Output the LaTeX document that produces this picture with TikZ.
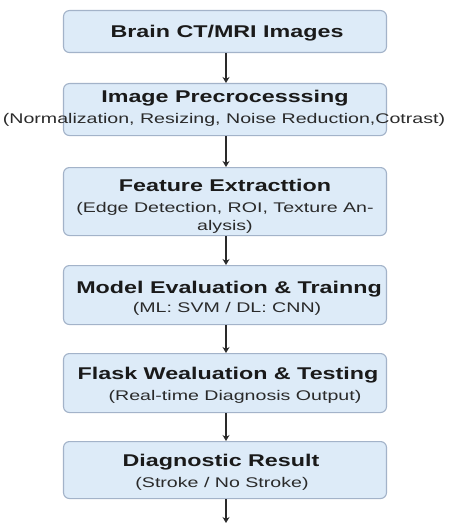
\documentclass[tikz,border=0pt]{standalone}
\usepackage{fontspec}
\setmainfont{Liberation Sans}
\newfontfamily\tfont[FakeStretch=1.37]{Liberation Sans}
\newfontfamily\sfontx[FakeStretch=1.40]{Liberation Sans}
\usetikzlibrary{arrows.meta}
\definecolor{boxfill}{HTML}{DDEBF8}
\definecolor{boxline}{HTML}{A3B3C9}
\definecolor{txt}{HTML}{1A1A1A}
\definecolor{subtxt}{HTML}{2A2A2A}
\definecolor{arr}{HTML}{2A2A2A}
\tikzset{
  stagebox/.style={draw=boxline, fill=boxfill, line width=1.1pt, rounded corners=6pt,
    minimum width=323pt, inner sep=0pt, anchor=north},
  titletext/.style={font=\tfont\bfseries\fontsize{17}{20}\selectfont, text=txt,
    inner sep=0pt, text height=12.2pt, text depth=0pt, anchor=center},
  subtext/.style={font=\sfontx\fontsize{14}{17}\selectfont, text=subtxt,
    inner sep=0pt, text height=10pt, text depth=0pt, anchor=center},
  flow/.style={draw=arr, line width=1.2pt, -{Stealth[length=6pt,width=7pt]}}
}
\begin{document}
\begin{tikzpicture}[x=1pt,y=1pt]
\useasboundingbox (0,0) rectangle (448,-524);
% boxes
\node[stagebox, minimum height=42pt] (b1) at (225,-10) {};
\node[stagebox, minimum height=52pt] (b2) at (225,-83) {};
\node[stagebox, minimum height=68pt] (b3) at (225,-167) {};
\node[stagebox, minimum height=59pt] (b4) at (225,-265) {};
\node[stagebox, minimum height=59pt] (b5) at (225,-353) {};
\node[stagebox, minimum height=57pt] (b6) at (225,-441) {};
% texts
\node[titletext] (t1) at (227,-31) {Brain CT/MRI Images};
\node[titletext] (t2) at (225,-96) {Image Precrocesssing};
\node[subtext] (s2) at (224,-118) {(Normalization, Resizing, Noise Reduction,Cotrast)};
\node[titletext] (t3) at (225,-185) {Feature Extracttion};
\node[subtext] (s3a) at (225,-207) {(Edge Detection, ROI, Texture An-};
\node[subtext] (s3b) at (225,-225) {alysis)};
\node[titletext] (t4) at (229,-287) {Model Evaluation \& Trainng};
\node[subtext] (s4) at (227,-307) {(ML: SVM / DL: CNN)};
\node[titletext] (t5) at (228,-373) {Flask Wealuation \& Testing};
\node[subtext] (s5) at (235,-395) {(Real-time Diagnosis Output)};
\node[titletext] (t6) at (221,-460) {Diagnostic Result};
\node[subtext] (s6) at (222,-482) {(Stroke / No Stroke)};
\coordinate (end) at (226,-523);
% arrows
\draw[flow] ([xshift=1pt]b1.south) -- ([xshift=1pt]b2.north);
\draw[flow] ([xshift=1pt]b2.south) -- ([xshift=1pt]b3.north);
\draw[flow] ([xshift=1pt]b3.south) -- ([xshift=1pt]b4.north);
\draw[flow] ([xshift=1pt]b4.south) -- ([xshift=1pt]b5.north);
\draw[flow] ([xshift=1pt]b5.south) -- ([xshift=1pt]b6.north);
\draw[flow] ([xshift=1pt]b6.south) -- (end);
\end{tikzpicture}
\end{document}
